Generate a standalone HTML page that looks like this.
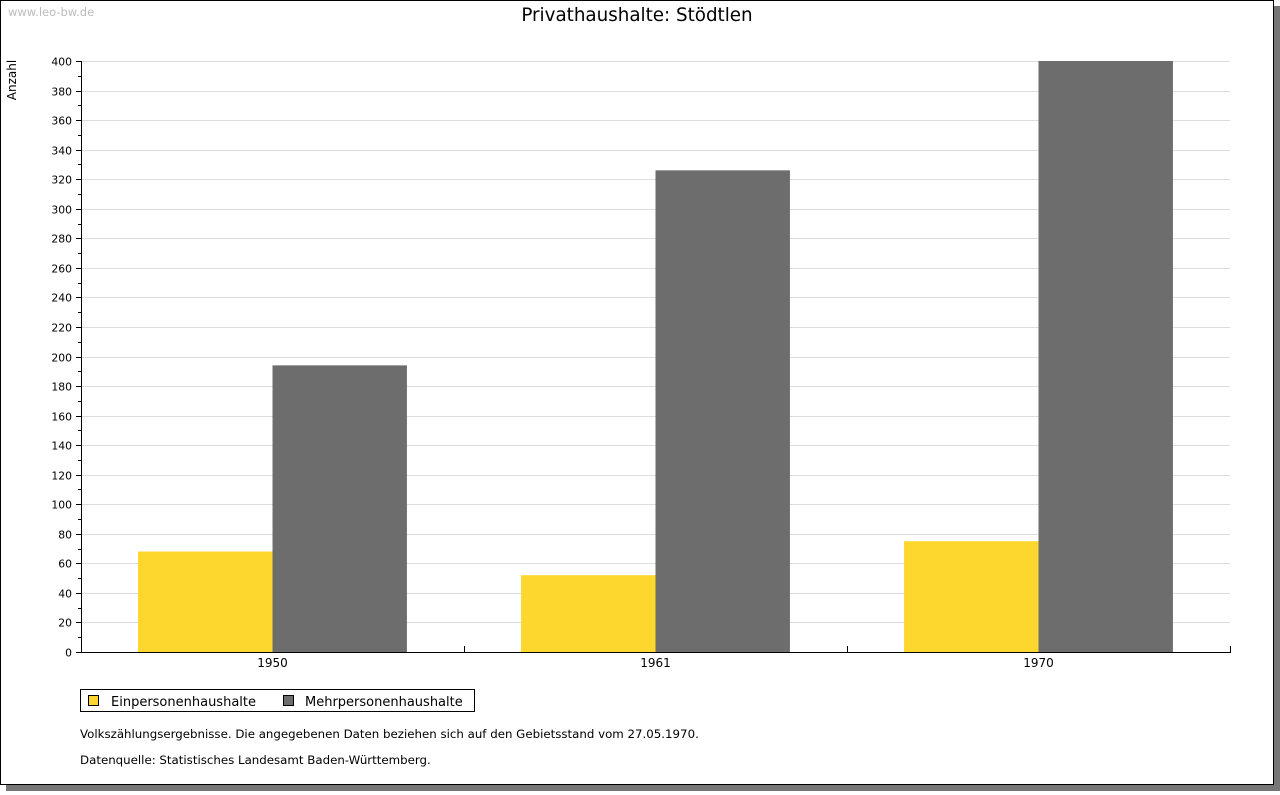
<!DOCTYPE html>
<html><head><meta charset="utf-8"><style>
body{margin:0;width:1280px;height:791px;background:#fff;overflow:hidden;font-family:"DejaVu Sans","Liberation Sans",sans-serif}
svg text{font-family:"DejaVu Sans","Liberation Sans",sans-serif}
</style></head><body>
<svg width="1280" height="791" xmlns="http://www.w3.org/2000/svg">
<rect x="6" y="6" width="1274" height="785" fill="#777"/>
<rect x="0.5" y="0.5" width="1273" height="784" fill="#fff" stroke="#000"/>
<text x="8" y="16" font-size="11.5" fill="#bbb">www.leo-bw.de</text>
<text x="637" y="21" font-size="18.3" text-anchor="middle" fill="#000">Privathaushalte: Stödtlen</text>
<text transform="translate(16,80) rotate(-90)" font-size="12" text-anchor="middle">Anzahl</text>
<g id="grid"></g><g id="bars"></g><g id="axes"></g>
<rect x="80.5" y="689.5" width="394" height="22" fill="#fff" stroke="#000"/>
<rect x="88.5" y="695.5" width="10" height="10" fill="#fdd72d" stroke="#000"/>
<text x="111" y="706" font-size="13">Einpersonenhaushalte</text>
<rect x="283.5" y="695.5" width="10" height="10" fill="#6d6d6d" stroke="#000"/>
<text x="305" y="706" font-size="13">Mehrpersonenhaushalte</text>
<text x="80" y="738" font-size="11.8">Volkszählungsergebnisse. Die angegebenen Daten beziehen sich auf den Gebietsstand vom 27.05.1970.</text>
<text x="80" y="764" font-size="11.8">Datenquelle: Statistisches Landesamt Baden-Württemberg.</text>
</svg>
<script>
const categories=["1950","1961","1970"];
const einpersonen=[68,52,75];
const mehrpersonen=[194,326,400];
const yTicks=[0,20,40,60,80,100,120,140,160,180,200,220,240,260,280,300,320,340,360,380,400];
const NS="http://www.w3.org/2000/svg";
const x0=81,x1=1230,y0=652,y1=61,yMax=400;
const yS=v=>y0-(y0-y1)*v/yMax;
const gw=(x1-x0)/categories.length;
const xS=i=>x0+gw*i;
function mk(p,t,a){const e=document.createElementNS(NS,t);for(const k in a)e.setAttribute(k,a[k]);document.getElementById(p).appendChild(e);return e;}
yTicks.forEach(v=>{
 const y=Math.round(yS(v))+0.5;
 if(v>0){const g=mk('grid','line',{x1:x0,x2:x1,y1:y,y2:y,stroke:'#dcdcdc'});
 
 }
 const t=mk('axes','line',{x1:x0-5,x2:x0,y1:y,y2:y,stroke:'#000'});
 
 
 const l=mk('axes','text',{x:72,y:y+4,'font-size':10.8,'text-anchor':'end'});l.textContent=v;
 
 
 if(v<yMax){const ym=Math.round(yS(v+10))+0.5;const m=mk('axes','line',{x1:x0-3,x2:x0,y1:ym,y2:ym,stroke:'#000'});
 
 }
});
const bw=gw*0.351,off=gw*0.149;
categories.forEach((c,i)=>{
 const bx=xS(i)+off;
 const a=mk('bars','rect',{x:bx,y:yS(einpersonen[i]),width:bw,height:y0-yS(einpersonen[i]),fill:'#fdd72d'});
 
 
 const b=mk('bars','rect',{x:bx+bw,y:yS(mehrpersonen[i]),width:bw,height:y0-yS(mehrpersonen[i]),fill:'#6d6d6d'});
 
 
 const l=mk('axes','text',{x:xS(i)+gw/2,y:667,'font-size':12,'text-anchor':'middle'});l.textContent=c;
 
 
 const tx=Math.round(xS(i+1))+0.5;
 const t=mk('axes','line',{x1:tx,x2:tx,y1:y0-6,y2:y0,stroke:'#000'});
 
 
});
const ya=mk('axes','line',{x1:x0+0.5,x2:x0+0.5,y1:y1,y2:y0,stroke:'#000'});


const xa=mk('axes','line',{x1:x0,x2:x1+1,y1:y0+0.5,y2:y0+0.5,stroke:'#000'});


</script>
</body></html>
